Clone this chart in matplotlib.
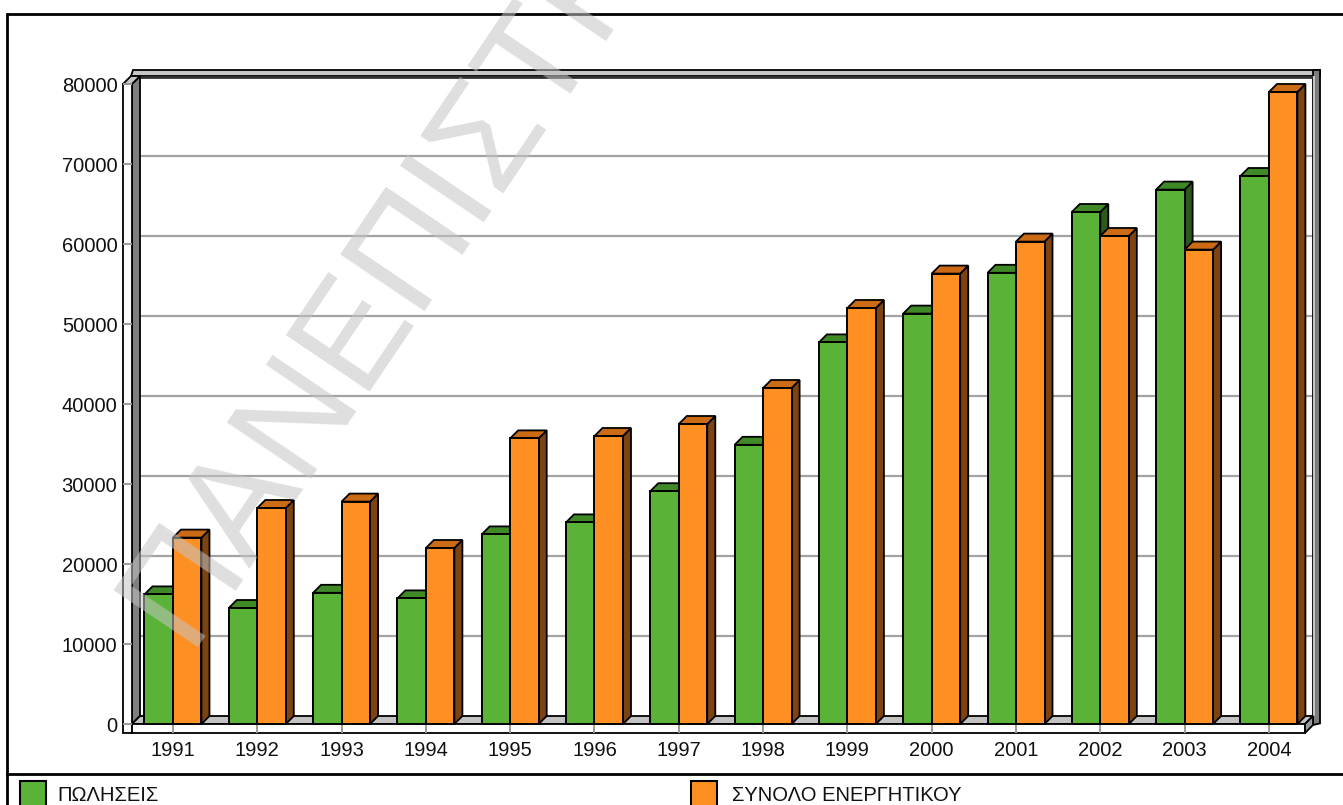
import matplotlib
matplotlib.use("Agg")
import matplotlib.pyplot as plt
from matplotlib.patches import Polygon, Rectangle
from matplotlib.lines import Line2D
import numpy as np

plt.rcParams['font.family'] = ['Liberation Sans', 'DejaVu Sans']

# ---- data -------------------------------------------------------------
years = ["1991", "1992", "1993", "1994", "1995", "1996", "1997",
         "1998", "1999", "2000", "2001", "2002", "2003", "2004"]
sales = [16200, 14500, 16400, 15700, 23700, 25200, 29100,
         34900, 47700, 51300, 56400, 64000, 66800, 68500]
assets = [23300, 27000, 27800, 22000, 35700, 36000, 37500,
          42000, 52000, 56300, 60300, 61000, 59300, 79000]
series_names = ["ΠΩΛΗΣΕΙΣ", "ΣΥΝΟΛΟ ΕΝΕΡΓΗΤΙΚΟΥ"]
yticks = [0, 10000, 20000, 30000, 40000, 50000, 60000, 70000, 80000]

# ---- styling ----------------------------------------------------------
green = dict(front="#5ab336", top="#3f8a27", side="#2c5a1b")
orange = dict(front="#fe8f22", top="#cc6b15", side="#7d4411")
W, H = 1343, 805
LABEL_SIZE = 14.5

fig = plt.figure(figsize=(W / 100, H / 100), dpi=100)
fig.patch.set_facecolor("white")

ax = fig.add_axes([132 / W, (H - 724) / H, (1305 - 132) / W, (724 - 84) / H])
ax.set_facecolor("none")
x0, x1 = -0.486, 13.428
ax.set_xlim(x0, x1)
ax.set_ylim(0, 80000)
for s in ax.spines.values():
    s.set_visible(False)

# depth of the pseudo-3D projection (data units)
DX, DY = 0.095, 1000
WT, FT = 0.107, 1125      # wall / floor thickness
RW = 0.083                # right wall thickness
BW = 0.338                # bar width

def poly(pts, fc, ec="black", lw=1.3, z=1):
    p = Polygon(pts, closed=True, facecolor=fc, edgecolor=ec, linewidth=lw,
                zorder=z, clip_on=False, joinstyle="miter")
    ax.add_patch(p)
    return p

ytop = yticks[-1]
# back wall
poly([(x0 + DX, DY), (x1 + DX, DY), (x1 + DX, ytop + DY), (x0 + DX, ytop + DY)],
     "white", ec="none", z=0.5)
# gridlines on the back wall
ax.hlines([v + DY for v in yticks[1:-1]], x0 + DX, x1 + DX,
          colors="#a3a3a3", linewidth=1.6, zorder=0.8, clip_on=False)
# top band of the frame
poly([(x0 - WT + DX, ytop + DY), (x1 + DX + RW, ytop + DY),
      (x1 + DX + RW, ytop + DY + 750), (x0 - WT + DX + 0.02, ytop + DY + 750)],
     "#c6c6c6", lw=1.3, z=0.9)
ax.hlines(ytop + DY - 100, x0 + DX, x1 + DX, colors="#303030",
          linewidth=2.0, zorder=0.95, clip_on=False)
# right wall
poly([(x1 + DX, DY - FT), (x1 + DX + RW, DY - FT + 200),
      (x1 + DX + RW, ytop + DY + 750), (x1 + DX, ytop + DY + 750)],
     "#7c7c7c", lw=1.3, z=0.9)
ax.vlines(x1 + DX + 0.012, DY, ytop + DY, colors="#c8c8c8",
          linewidth=1.4, zorder=0.95, clip_on=False)
# left wall: side face, top face, front face
poly([(x0, 0), (x0, ytop), (x0 + DX, ytop + DY), (x0 + DX, DY)], "#7f7f7f", z=1)
poly([(x0 - WT, ytop), (x0, ytop), (x0 + DX, ytop + DY), (x0 - WT + DX, ytop + DY)],
     "#c6c6c6", z=1.1)
poly([(x0 - WT, -FT), (x0, -FT), (x0, ytop), (x0 - WT, ytop)], "white", z=1.2)
ax.hlines(yticks, x0 - WT, x0, colors="#9a9a9a", linewidth=1.4, zorder=1.3,
          clip_on=False)
# floor: top face, front face, right end
poly([(x0, 0), (x1, 0), (x1 + DX, DY), (x0 + DX, DY)], "#c2c2c2", z=1)
poly([(x0, -FT), (x1, -FT), (x1, 0), (x0, 0)], "white", z=1.2)
poly([(x1, -FT), (x1, 0), (x1 + DX, DY), (x1 + DX, DY - FT)], "#9a9a9a", z=1.2)
xs = np.arange(len(years))
ax.vlines(xs, -FT, 0, colors="#9a9a9a", linewidth=1.4, zorder=1.3, clip_on=False)

# bars: side and top faces first, then the front faces from ax.bar
for i, (g, o) in enumerate(zip(sales, assets)):
    for left, v, col, z in ((i - BW, g, green, 2), (i, o, orange, 3)):
        right = left + BW
        poly([(right, 0), (right, v), (right + DX, v + DY), (right + DX, DY)],
             col["side"], z=z)
        poly([(left, v), (right, v), (right + DX, v + DY), (left + DX, v + DY)],
             col["top"], z=z)
ax.bar(xs - BW / 2, sales, BW, color=green["front"], edgecolor="black",
       linewidth=1.4, zorder=2.5, clip_on=False)
ax.bar(xs + BW / 2, assets, BW, color=orange["front"], edgecolor="black",
       linewidth=1.4, zorder=3.5, clip_on=False)

# axis labels
ax.set_yticks(yticks)
ax.set_yticklabels([str(v) for v in yticks])
ax.set_xticks(xs)
ax.set_xticklabels(years)
ax.tick_params(axis="y", length=0, pad=10.5, labelsize=LABEL_SIZE,
               labelcolor="#111111")
ax.tick_params(axis="x", length=0, pad=12.5, labelsize=LABEL_SIZE,
               labelcolor="#111111")

# outer frame and legend strip
fig.add_artist(Rectangle((7 / W, -0.05), 1.2, (H - 14) / H + 0.05,
                         transform=fig.transFigure, fill=False,
                         edgecolor="black", linewidth=2))
fig.add_artist(Line2D([7 / W, 1], [(H - 774) / H] * 2, transform=fig.transFigure,
                      color="black", linewidth=2))
for (sx, tx), name, col in zip(((20, 57), (691, 732)), series_names, (green, orange)):
    fig.add_artist(Rectangle((sx / W, (H - 807) / H), 26 / W, 26 / H,
                             transform=fig.transFigure, facecolor=col["front"],
                             edgecolor="black", linewidth=1.5))
    fig.text(tx / W, (H - 795) / H, name, ha="left", va="center",
             fontsize=LABEL_SIZE, color="#111111")

# watermark
fig.text(186 / W, (H - 646) / H, "ΠΑΝΕΠΙΣΤΗΜΙΟ", rotation=56,
         rotation_mode="anchor", ha="left", va="baseline", fontsize=105,
         color="#c4c4c4", alpha=0.55, zorder=100)

fig.savefig("out.png", dpi=100)
